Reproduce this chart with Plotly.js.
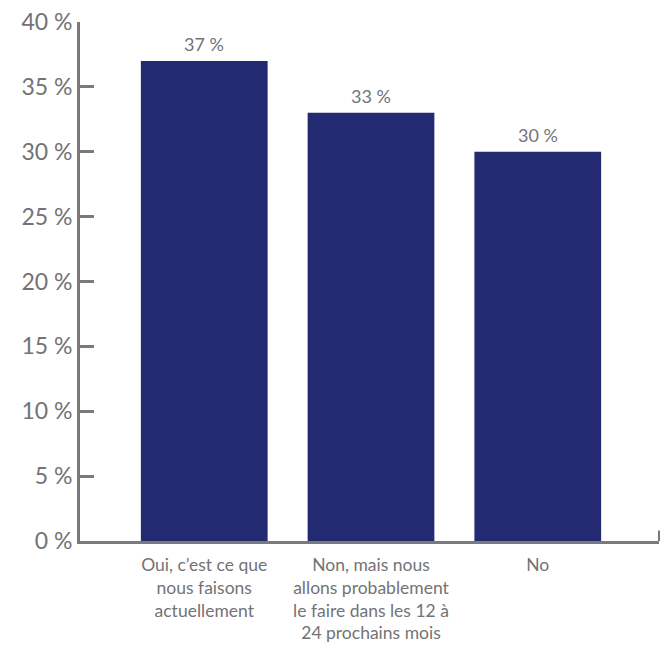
<!DOCTYPE html>
<html>
<head>
<meta charset="utf-8">
<script src="https://cdn.plot.ly/plotly-3.0.1.min.js"></script>
<style>
  html, body { margin: 0; padding: 0; background: #ffffff; }
  #chart { width: 668px; height: 646px; }
</style>
</head>
<body>
<div id="chart"></div>
<script>
// Survey answers and their shares (%)
const categories = [
  "Oui, c’est ce que<br>nous faisons<br>actuellement",
  "Non, mais nous<br>allons probablement<br>le faire dans les 12 à<br>24 prochains mois",
  "No"
];
const shares = [37, 33, 30];
const shareLabels = ["37 %", "33 %", "30 %"];
const yTicks = [0, 5, 10, 15, 20, 25, 30, 35, 40];

const axisGrey = "#7a7a7d";
const textGrey = "#737376";
const fontFamily = "Lato, 'Noto Sans', sans-serif";
const xPos = categories.map((_, i) => i);

const trace = {
  type: "bar",
  x: xPos,
  y: shares,
  marker: { color: "#232a72" },
  width: 0.76,
  hoverinfo: "skip"
};

// value labels above each bar
const valueLabels = xPos.map((x, i) => ({
  x: x,
  y: shares[i],
  xref: "x",
  yref: "y",
  text: shareLabels[i],
  showarrow: false,
  yanchor: "bottom",
  yshift: 4,
  font: { family: fontFamily, size: 18, color: textGrey }
}));

const layout = {
  width: 668,
  height: 646,
  margin: { l: 80, r: 9, t: 22, b: 105 },
  paper_bgcolor: "#ffffff",
  plot_bgcolor: "#ffffff",
  showlegend: false,
  font: { family: fontFamily, color: textGrey },
  xaxis: {
    range: [-0.745, 2.727],
    tickmode: "array",
    tickvals: xPos,
    ticktext: categories,
    ticks: "",
    ticklabelstandoff: 6,
    tickfont: { family: fontFamily, size: 17.5, color: textGrey },
    showline: true,
    linecolor: axisGrey,
    linewidth: 3,
    showgrid: false,
    zeroline: false,
    fixedrange: true
  },
  yaxis: {
    range: [0, 40],
    tickmode: "array",
    tickvals: yTicks,
    ticktext: yTicks.map(v => v + " %"),
    ticks: "inside",
    ticklen: 14,
    tickwidth: 3,
    tickcolor: axisGrey,
    tickfont: { family: fontFamily, size: 23, color: textGrey },
    showline: true,
    linecolor: axisGrey,
    linewidth: 3,
    showgrid: false,
    zeroline: false,
    fixedrange: true
  },
  annotations: valueLabels,
  shapes: [
    {
      // short end mark on the right of the category axis
      type: "line", xref: "paper", yref: "y",
      x0: 1, x1: 1, y0: 0, y1: 0.8,
      line: { color: axisGrey, width: 2 }
    }
  ]
};

Plotly.newPlot("chart", [trace], layout, { displayModeBar: false, staticPlot: true });
</script>
</body>
</html>
